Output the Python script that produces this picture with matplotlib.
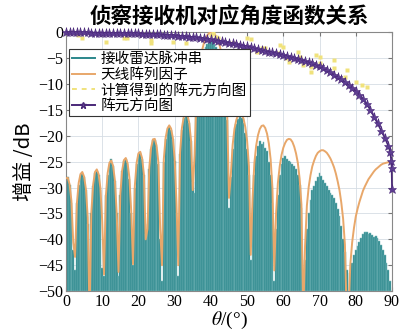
import numpy as np
import matplotlib
matplotlib.use('Agg')
import matplotlib.pyplot as plt
from matplotlib.lines import Line2D

plt.rcParams['font.family'] = ['Liberation Serif', 'Noto Sans CJK SC']
plt.rcParams['mathtext.fontset'] = 'stix'

# angle grid of the sampled curves (deg)
theta = np.arange(0, 90.5, 0.5)

# received radar pulse train (dB), one value per 0.5 deg
pulse_db = [
    -28.5, -28.0, -29.5, -33.0, -42.0, -46.0, -33.0, -29.5, -27.5, -27.3,
    -28.0, -30.5, -37.0, -50.0, -35.0, -29.8, -27.2, -26.8, -27.5, -30.5,
    -45.5, -47.0, -31.5, -27.5, -25.5, -24.4, -25.8, -28.8, -35.0, -47.0,
    -31.5, -26.8, -24.8, -24.5, -25.5, -28.3, -35.0, -45.0, -30.0, -25.5,
    -23.6, -23.3, -24.5, -27.6, -39.0, -37.0, -26.4, -22.6, -20.8, -20.9,
    -22.2, -25.5, -40.0, -48.0, -25.0, -20.7, -18.8, -18.3, -18.9, -20.6,
    -24.8, -35.0, -47.0, -23.5, -18.8, -16.6, -15.8, -16.2, -17.6, -21.0,
    -29.0, -31.0, -14.0, -9.5, -6.8, -5.0, -3.8, -2.9, -2.3, -2.0,
    -1.8, -1.9, -2.2, -2.8, -3.6, -4.7, -6.2, -8.3, -11.5, -17.0,
    -34.0, -28.0, -22.5, -19.5, -17.8, -16.8, -16.3, -16.6, -17.5, -19.5,
    -22.5, -27.5, -44.0, -34.0, -27.5, -24.0, -22.0, -21.0, -21.5, -21.2,
    -22.3, -23.0, -25.0, -27.5, -33.0, -48.0, -38.0, -31.5, -27.5, -25.5,
    -24.3, -24.0, -24.4, -24.8, -25.0, -25.5, -25.8, -26.5, -27.5, -29.5,
    -34.0, -50.0, -44.0, -38.0, -35.0, -32.5, -30.5, -29.8, -28.8, -28.0,
    -27.2, -27.8, -28.5, -29.2, -29.8, -30.4, -31.0, -31.5, -32.0, -33.0,
    -34.2, -35.5, -37.5, -40.0, -42.5, -46.0, -50.0, -46.5, -44.5, -43.0,
    -42.0, -41.2, -40.6, -39.8, -39.0, -38.5, -38.6, -39.0, -38.7, -39.2,
    -39.5, -39.3, -39.8, -40.3, -41.0, -42.0, -43.0, -44.5, -46.0, -48.0,
    -50.0,
]

# antenna array factor (dB), one value per 0.5 deg
array_db = [
    -28.2, -28.1, -29.4, -32.6, -40.6, -43.4, -33.1, -29.1, -27.4, -27.0,
    -27.9, -30.3, -35.8, -55.0, -34.7, -29.4, -27.0, -26.5, -27.4, -30.1,
    -36.5, -46.8, -31.7, -27.2, -25.2, -24.8, -25.8, -28.6, -35.0, -46.3,
    -31.2, -26.7, -24.7, -24.3, -25.3, -28.1, -34.5, -44.8, -29.7, -25.2,
    -23.4, -23.1, -24.3, -27.4, -40.0, -38.0, -26.1, -22.3, -20.7, -20.6,
    -21.9, -25.1, -38.0, -45.0, -24.5, -20.4, -18.6, -18.0, -18.6, -20.4,
    -24.5, -33.0, -45.0, -23.2, -18.5, -16.4, -15.5, -15.9, -17.4, -20.8,
    -30.5, -23.7, -13.1, -8.5, -5.6, -3.7, -2.3, -1.3, -0.6, -0.2,
    0.0, -0.05, -0.3, -0.9, -1.7, -2.8, -4.4, -6.6, -10.0, -15.8,
    -32.0, -27.6, -21.8, -18.7, -17.0, -16.0, -15.6, -15.8, -16.7, -18.3,
    -21.0, -25.9, -43.0, -32.2, -25.3, -21.9, -19.9, -18.7, -18.1, -18.0,
    -18.5, -19.6, -21.5, -24.6, -30.2, -46.0, -34.9, -29.1, -25.9, -23.7,
    -22.3, -21.4, -20.8, -20.6, -20.7, -21.2, -22.1, -23.4, -25.2, -28.3,
    -33.3, -55.0, -41.3, -33.5, -29.9, -27.6, -25.9, -24.8, -23.9, -23.3,
    -23.0, -22.8, -22.8, -23.0, -23.3, -23.8, -24.4, -25.2, -26.1, -27.3,
    -28.8, -30.5, -32.9, -36.0, -41.0, -55.0, -53.5, -44.8, -40.6, -37.8,
    -35.6, -34.1, -32.8, -31.7, -30.6, -29.8, -29.1, -28.4, -27.9, -27.4,
    -26.9, -26.5, -26.2, -25.9, -25.6, -25.4, -25.3, -25.2, -25.1, -25.0,
    -25.0,
]

# element pattern (dB)
element_theta = list(range(0, 90)) + [89.5, 89.8, 89.9, 90.0]
element_db = [
    0.0, -0.01, -0.02, -0.03, -0.04, -0.05, -0.06, -0.07, -0.08, -0.09,
    -0.10, -0.11, -0.12, -0.13, -0.14, -0.15, -0.17, -0.19, -0.21, -0.23,
    -0.25, -0.28, -0.31, -0.34, -0.37, -0.40, -0.44, -0.48, -0.52, -0.56,
    -0.60, -0.66, -0.73, -0.80, -0.87, -0.95, -1.03, -1.12, -1.21, -1.30,
    -1.40, -1.51, -1.63, -1.75, -1.87, -2.00, -2.14, -2.29, -2.44, -2.59,
    -2.75, -2.91, -3.08, -3.25, -3.42, -3.60, -3.76, -3.92, -4.08, -4.24,
    -4.40, -4.57, -4.75, -4.93, -5.11, -5.30, -5.54, -5.79, -6.05, -6.32,
    -6.60, -6.97, -7.36, -7.76, -8.18, -8.60, -9.10, -9.62, -10.16, -10.72,
    -11.3, -12.1, -12.9, -13.9, -15.0, -16.3, -17.6, -19.0, -20.4, -22.0,
    -23.2, -24.8, -26.3, -30.2,
]

# element pattern estimated from the measurements
est_theta = [3.3, 4.4, 11, 16, 16.8, 23.6, 23.6, 29.5, 33, 40, 40.5, 41.5, 42, 46,
             50, 51, 50, 52.6, 54, 55, 58.4, 59, 59.8, 60.8, 61.7, 64, 64.5, 65.4,
             67.7, 67.7, 69, 70, 70, 74, 74, 77, 77.6, 80, 81.8, 83]
est_db = [-0.6, -1.1, -1.9, -1.2, -1.1, -2.1, -1.5, -1.9, -2.1, -0.6, -0.2, -1.0, -1.1, -2.1,
          -1.1, -1.4, -2.9, -3.8, -3.1, -3.0, -4.0, -2.5, -2.9, -5.0, -5.7, -3.9, -4.8, -6.3,
          -7.7, -6.7, -4.4, -4.8, -6.0, -5.4, -7.0, -8.6, -7.3, -9.6, -10.2, -10.5]

labels = ['接收雷达脉冲串', '天线阵列因子', '计算得到的阵元方向图', '阵元方向图']
teal = '#2b878b'
orange = '#e8a76a'
yellow = '#f0e27c'
purple = '#4a2878'

fig = plt.figure(figsize=(4, 3.35), dpi=100)
ax = fig.add_axes([0.165, 0.131, 0.815, 0.773])

pulse = np.array(pulse_db)
ax.bar(theta, pulse + 50, bottom=-50, width=0.5, color=teal,
       edgecolor='#7dbcbd', linewidth=0.35, zorder=2)
ax.plot(theta, array_db, color=orange, lw=1.4, zorder=3)
ax.plot(est_theta, est_db, ls='none', marker='s', ms=2.2, color=yellow,
        mec='none', zorder=4)
ax.plot(element_theta, element_db, color=purple, lw=1.2, marker='*', ms=6.5,
        mfc='#5e3d92', mec=purple, mew=0.4, zorder=5, clip_on=False)

ax.set_xlim(0, 90)
ax.set_ylim(-50, 0)
ax.set_xticks(range(0, 91, 10))
ax.set_yticks(range(-50, 1, 5))
ax.tick_params(direction='in', top=True, right=True, labelsize=11.5, length=3,
               color='#777777', pad=2)
ax.grid(True, color='#d6dde4', lw=0.6, zorder=0)
ax.set_axisbelow(True)
for s in ax.spines.values():
    s.set_color('#888888')
    s.set_linewidth(0.8)

ax.set_title('侦察接收机对应角度函数关系', fontsize=15.5, pad=7,
             family=['Noto Sans CJK SC'], weight='bold')
ax.set_xlabel(r'$\theta$/(°)', fontsize=14, labelpad=0)
ax.set_ylabel('增益 /dB', fontsize=14.5, labelpad=2,
              family=['Noto Sans CJK SC', 'Liberation Serif'])

handles = [
    Line2D([], [], color=teal, lw=1.4),
    Line2D([], [], color=orange, lw=1.4),
    Line2D([], [], color=yellow, lw=1.4, ls=(0, (2.5, 2.5))),
    Line2D([], [], color=purple, lw=1.4, marker='*', ms=5, mfc='#6b4b9c'),
]
leg = ax.legend(handles, labels, loc='upper left', bbox_to_anchor=(0.008, 0.935),
                borderaxespad=0, frameon=True, fancybox=False,
                framealpha=1, edgecolor='#333333', handlelength=1.6,
                handletextpad=0.4, borderpad=0.2, labelspacing=0.12,
                prop={'family': ['Noto Sans CJK SC'], 'size': 10.5})
leg.get_frame().set_linewidth(0.8)
leg.set_zorder(10)

fig.savefig('out.png', dpi=100)
